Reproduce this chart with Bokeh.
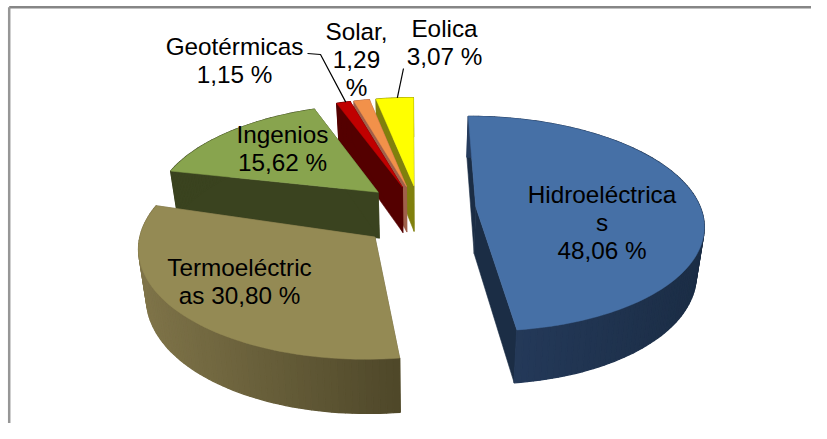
import math
from bokeh.plotting import figure
from bokeh.embed import file_html
from bokeh.resources import INLINE
from bokeh.core.properties import value

names = ["Hidroeléctricas", "Termoeléctricas", "Ingenios", "Geotérmicas", "Solar", "Eolica"]
shares = [48.06, 30.80, 15.62, 1.15, 1.29, 3.07]
top_colors = ["#4670a6", "#948a54", "#88a44e", "#c00000", "#f2914a", "#ffff00"]
wall_colors = ["#1b2d45", "#6d6540", "#3a431f", "#540000", "#a0604a", "#80800d"]
arc_wall_left = ["#263c5e", "#7f7449", "#3a431f", "#540000", "#a0604a", "#80800d"]
arc_wall_right = ["#1b2d45", "#4e4729", "#3a431f", "#540000", "#a0604a", "#80800d"]
label_lines = [["Hidroeléctrica", "s", "48,06 %"], ["Termoeléctric", "as 30,80 %"], ["Ingenios", "15,62 %"],
               ["Geotérmicas", "1,15 %"], ["Solar,", "1,29", "%"], ["Eolica", "3,07 %"]]

# layout of the 3D projection
W, H = 811, 423
CX, CY, RX, RY, PERSP = 419.0, 211.0, 226.0, 106.0, 0.13
START = -0.3
EXPLODE = [0.25, 0.27, 0.25, 0.25, 0.25, 0.25]
APEX_NUDGE_X = [0, 2, 0, 0, 0, 0]
APEX_NUDGE_Y = [-3, 6, -2, 0, 0, 0]
DEPTH, DEPTH_P, SHRINK = 47.0, 0.13, 0.972
LABEL_POS = [(601.5, 222), (239, 281), (282, 148), (234, 60), (356, 59), (444, 42)]
FS = 24.3
LINE_H = 28
LEADERS = {3: [(307, 53), (320, 54)], 5: [(403, 68)]}

def project(X, Y):
    w = 1 - PERSP * Y
    return CX + RX * X / w, CY + RY * Y / w

def drop(pt, Y):
    return CX + (pt[0] - CX) * SHRINK, pt[1] + DEPTH * (1 + DEPTH_P * Y)

def mix(a, b, t):
    ca = [int(a[i:i + 2], 16) for i in (1, 3, 5)]
    cb = [int(b[i:i + 2], 16) for i in (1, 3, 5)]
    return "#%02x%02x%02x" % tuple(round(x + (y - x) * t) for x, y in zip(ca, cb))

p = figure(width=W, height=H, x_range=(0, W), y_range=(H, 0), output_backend="svg",
           toolbar_location=None, min_border=0, outline_line_color=None)
p.axis.visible = False
p.grid.visible = False
p.background_fill_color = "white"
p.border_fill_color = "white"

p.line([8.7, W], [6.7, 6.7], line_color="#868686", line_width=2.5)
p.line([8.7, 8.7], [6.7, H], line_color="#969696", line_width=2.5)

# build slices
slices = []
a = START
for i, s in enumerate(shares):
    sweep = 360 * s / 100
    a0, a1 = a, a + sweep
    mid = math.radians((a0 + a1) / 2)
    ax, ay = EXPLODE[i] * math.sin(mid), -EXPLODE[i] * math.cos(mid)
    n = max(3, int(sweep / 1.5))
    arc = []
    for k in range(n + 1):
        t = math.radians(a0 + (a1 - a0) * k / n)
        arc.append((ax + math.sin(t), ay - math.cos(t)))
    slices.append(dict(i=i, apex=(ax, ay), arc=arc))
    a = a1

def xy(points):
    return [q[0] for q in points], [q[1] for q in points]

def draw(sl):
    i = sl["i"]
    apex = sl["apex"]
    arc = sl["arc"]
    ap = project(*apex)
    ap = (ap[0] + APEX_NUDGE_X[i], ap[1] + APEX_NUDGE_Y[i])
    apd = drop(ap, apex[1])
    # radial walls
    for q in (arc[0], arc[-1]):
        t0 = project(*q)
        b0 = drop(t0, q[1])
        xs, ys = xy([ap, t0, b0, apd])
        p.patch(xs, ys, fill_color=wall_colors[i], line_color=wall_colors[i], line_width=0.6)
    # arc wall with gradient
    sx_all = [project(*q)[0] for q in arc]
    lo, hi = min(sx_all), max(sx_all)
    for k in range(len(arc) - 1):
        q0, q1 = arc[k], arc[k + 1]
        t0, t1 = project(*q0), project(*q1)
        b0, b1 = drop(t0, q0[1]), drop(t1, q1[1])
        t = ((t0[0] + t1[0]) / 2 - lo) / max(hi - lo, 1)
        c = mix(arc_wall_left[i], arc_wall_right[i], t)
        xs, ys = xy([t0, t1, b1, b0])
        p.patch(xs, ys, fill_color=c, line_color=c, line_width=1.3)
    # top
    pts = [ap] + [project(*q) for q in arc]
    xs, ys = xy(pts)
    p.patch(xs, ys, fill_color=top_colors[i], line_color=top_colors[i], line_width=0.5)

for idx in [5, 4, 3, 2, 1, 0]:
    draw(slices[idx])

# leader lines
for i, start in LEADERS.items():
    arc = slices[i]["arc"]
    end = project(*arc[len(arc) // 2])
    xs, ys = xy(start + [end])
    p.line(xs, ys, line_color="black", line_width=1.2)

# labels
for i, lines in enumerate(label_lines):
    lx, ly = LABEL_POS[i]
    for j, line in enumerate(lines):
        p.text([lx], [ly + (j - (len(lines) - 1) / 2) * LINE_H], text=[line], text_font=value("Liberation Sans"),
               text_font_size=f"{FS}px", text_align="center", text_baseline="middle", text_color="black")

open("out.html", "w").write(file_html(p, INLINE))
